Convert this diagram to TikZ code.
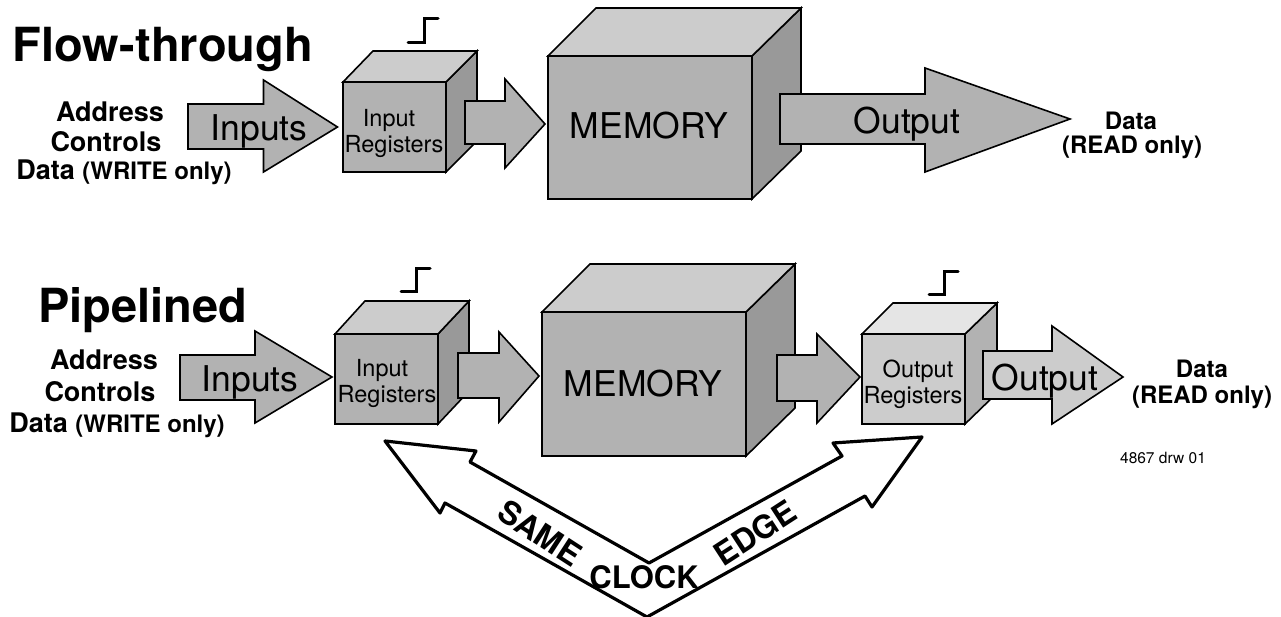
\documentclass[tikz,border=0pt]{standalone}
\usepackage{fontspec}
\setmainfont{TeX Gyre Heros}
\definecolor{fA}{HTML}{B2B2B2}
\definecolor{fB}{HTML}{CCCCCC}
\definecolor{fC}{HTML}{999999}
\definecolor{fD}{HTML}{E5E5E5}
\newcommand{\fsz}[1]{\fontsize{#1}{#1}\selectfont}
\newcommand{\regcube}[9]{%
  \filldraw[shape line,fill=#9] (#3,#2) -- (#3+#5,#2-#6) -- (#3+#5,#4-#6) -- (#3,#4) -- cycle;
  \filldraw[shape line,fill=#8] (#1,#2) -- (#1+#5-1,#2-#6) -- (#3+#5,#2-#6) -- (#3,#2) -- cycle;
  \filldraw[shape line,fill=#7] (#1,#2) rectangle (#3,#4);}
% start x, head x, tip x, shaft top, shaft bottom, head top, head bottom, tip y, fill
\newcommand{\blockarrow}[9]{%
  \filldraw[shape line,fill=#9] (#1,#4) -- (#2,#4) -- (#2,#6) -- (#3,#8) -- (#2,#7) -- (#2,#5) -- (#1,#5) -- cycle;}
\tikzset{
  x=1pt,y=-1pt,
  shape line/.style={draw=black,line width=1.6pt,line join=miter},
  clockedge/.style={draw=black,line width=3.2pt,line join=round,line cap=round},
  stepline/.style={draw=black,line width=3pt,line cap=round,line join=miter},
  lbl/.style={inner sep=0pt,outer sep=0pt,anchor=base,align=center},
  title/.style={lbl,font=\fsz{47}\bfseries},
  side/.style={lbl,font=\fsz{27}\bfseries},
  small/.style={lbl,font=\fsz{24}\bfseries},
  big/.style={lbl,font=\fsz{35.5}},
  reg/.style={lbl,font=\fsz{23.5}},
  rot/.style={inner sep=0pt,outer sep=0pt,anchor=center,font=\fsz{32}\bfseries},
}
\begin{document}
\begin{tikzpicture}
\useasboundingbox (0,0) rectangle (1281,617);
% ---- top row
\node[title] (t1) at (163,62) {Flow-through};
\draw[stepline] (408,43) -- (424,43) -- (424,19) -- (438,19);
\regcube{343}{82}{446}{172}{31}{31}{fA}{fB}{fC}
\regcube{548}{56}{752}{199}{49}{48}{fA}{fB}{fC}
\blockarrow{188}{263.5}{337.5}{104}{149}{80}{172}{127}{fA}
\blockarrow{465}{505}{545}{101}{144}{79}{168}{124}{fA}
\blockarrow{780}{925}{1070}{94}{144}{68}{172}{119}{fA}
\node[side] (a1) at (110,122) {Address};
\node[side] (c1) at (106,152) {Controls};
\node[side] (d1) at (124,180) {Data {\fsz{24}(WRITE only)}};
\node[big] (i1) at (259,141) {Inputs};
\node[reg] (ir1) at (389,127) {Input};
\node[reg] (ir2) at (394,153) {Registers};
\node[big] (m1) at (649,139) {MEMORY};
\node[big] (o1) at (907,134) {Output};
\node[small] (e1) at (1131,130) {Data};
\node[small] (e2) at (1132,154) {(READ only)};
% ---- bottom row
\node[title] (t2) at (143,322) {Pipelined};
\draw[stepline] (401,292) -- (416,292) -- (416,269) -- (430,269);
\draw[stepline] (929,295) -- (944,295) -- (944,272) -- (958,272);
\regcube{335}{334}{438}{424}{31}{33}{fA}{fB}{fC}
\regcube{542}{312}{746}{456}{49}{48}{fA}{fB}{fC}
\regcube{862}{334}{965}{424}{32}{31}{fB}{fD}{fA}
\blockarrow{180}{255}{332}{355}{400}{331}{423}{377}{fA}
\blockarrow{458}{499}{539}{353}{398}{332}{422}{376}{fA}
\blockarrow{777}{817}{860}{355}{401}{334}{423}{377}{fA}
\blockarrow{983}{1052}{1123}{351}{399}{326}{424}{377}{fB}
\node[side] (a2) at (104,369) {Address};
\node[side] (c2) at (100,401) {Controls};
\node[side] (d2) at (117,432) {Data {\fsz{24}(WRITE only)}};
\node[big] (i2) at (250,391) {Inputs};
\node[reg] (ir3) at (382,376) {Input};
\node[reg] (ir4) at (387,402) {Registers};
\node[big] (m2) at (643,396) {MEMORY};
\node[reg] (or1) at (918,377) {Output};
\node[reg] (or2) at (913,403) {Registers};
\node[big] (o2) at (1045,390) {Output};
\node[small] (e3) at (1202,377) {Data};
\node[small] (e4) at (1202,403) {(READ only)};
\node[lbl,font=\fsz{15.5}] (drw) at (1163,463) {4867 drw 01};
% ---- same clock edge arrow
\filldraw[clockedge,fill=white] (385,441) -- (476,451) -- (470,462) -- (649,563) -- (842,456) -- (833,443) -- (922,437) -- (872,507) -- (865,496) -- (647,617) -- (445,503) -- (440,513) -- cycle;
\node[rot,rotate=-33] (same) at (540,533) {SAME};
\node[lbl,font=\fsz{31}\bfseries] (clock) at (644,588) {CLOCK};
\node[rot,rotate=33] (edge) at (755,533) {EDGE};
\end{tikzpicture}
\end{document}
